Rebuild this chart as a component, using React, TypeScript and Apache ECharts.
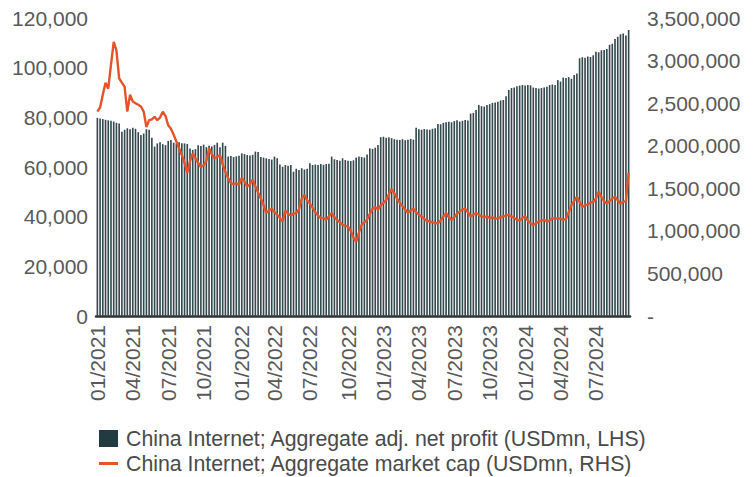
import React, { useEffect, useRef } from "react";
import * as echarts from "echarts";

const SERIES_PROFIT = "China Internet; Aggregate adj. net profit (USDmn, LHS)";
const SERIES_CAP = "China Internet; Aggregate market cap (USDmn, RHS)";

const START_DATE = "2021-01-01";

const TICK_LABELS = [
  "01/2021", "04/2021", "07/2021", "10/2021",
  "01/2022", "04/2022", "07/2022", "10/2022",
  "01/2023", "04/2023", "07/2023", "10/2023",
  "01/2024", "04/2024", "07/2024",
];

// Weekly aggregate adj. net profit (USDmn)
const profit = [
  79800, 79500, 79300, 79000, 78800, 78600, 78300, 77800, 77500, 74200,
  75000, 75600, 75200, 75800, 75400, 74000, 72900, 73500, 75200, 75000,
  71800, 68200, 69500, 70000, 69200, 68800, 70500, 70900, 69800, 69500,
  70000, 69600, 69500, 69300, 67500, 66900, 67200, 68800, 68500, 69000,
  68000, 68600, 68300, 68900, 69800, 68000, 69800, 68500, 64200, 64400,
  64000, 64300, 64500, 65500, 65200, 64800, 64600, 64900, 66200, 66000,
  64000, 63800, 63500, 63200, 63000, 64200, 63500, 61000, 60100, 60800,
  60500, 60800, 58100, 59300, 58800, 59500, 59000, 59300, 61500, 60800,
  61000, 60800, 61200, 60900, 61200, 61300, 64200, 63100, 62800, 62500,
  63500, 62800, 62500, 62400, 62700, 63800, 64200, 64000, 63800, 65000,
  67500, 67300, 67800, 68900, 72000, 72200, 71800, 72000, 71600, 71200,
  71000, 70900, 71200, 70800, 71000, 71300, 71000, 75800, 75200, 75000,
  75300, 75100, 75000, 75400, 75600, 77300, 77200, 77800, 78000, 78200,
  78000, 78500, 78800, 78300, 78600, 78900, 78700, 81500, 81800, 83000,
  85000, 84500, 84300, 85000, 85300, 85800, 86000, 86300, 86800, 87000,
  88500, 91000, 91800, 92000, 92500, 92800, 93000, 92800, 93000, 92900,
  92000, 91800, 91600, 91800, 92000, 92300, 93000, 93200, 93000, 95000,
  94400, 96000, 95800, 96200, 95500, 97000, 97700, 103800, 104200, 104000,
  104500, 104300, 105000, 106400, 106200, 107000, 107100, 107500, 109200, 109600,
  111500, 112500, 113500, 113800, 113000, 115200,
];

// Weekly aggregate market cap (USDmn)
const marketCap = [
  2400000, 2450000, 2600000, 2740000, 2670000, 2950000, 3220000, 3120000, 2790000, 2740000,
  2690000, 2400000, 2600000, 2520000, 2500000, 2480000, 2460000, 2400000, 2220000, 2300000,
  2310000, 2340000, 2300000, 2330000, 2400000, 2350000, 2240000, 2200000, 2130000, 2050000,
  1970000, 1890000, 1800000, 1680000, 1820000, 1910000, 1850000, 1800000, 1750000, 1770000,
  1820000, 1970000, 1900000, 1850000, 1870000, 1890000, 1780000, 1690000, 1620000, 1560000,
  1550000, 1560000, 1540000, 1620000, 1580000, 1520000, 1550000, 1600000, 1520000, 1450000,
  1380000, 1300000, 1210000, 1240000, 1260000, 1220000, 1190000, 1150000, 1110000, 1240000,
  1200000, 1180000, 1200000, 1210000, 1250000, 1380000, 1420000, 1360000, 1320000, 1270000,
  1220000, 1180000, 1150000, 1150000, 1130000, 1170000, 1210000, 1160000, 1130000, 1100000,
  1070000, 1060000, 1050000, 1000000, 920000, 870000, 980000, 1070000, 1100000, 1130000,
  1200000, 1260000, 1280000, 1250000, 1300000, 1330000, 1360000, 1430000, 1490000, 1440000,
  1380000, 1330000, 1290000, 1250000, 1210000, 1240000, 1260000, 1220000, 1190000, 1170000,
  1140000, 1120000, 1110000, 1100000, 1090000, 1090000, 1120000, 1170000, 1210000, 1160000,
  1130000, 1160000, 1200000, 1230000, 1250000, 1260000, 1220000, 1170000, 1190000, 1210000,
  1190000, 1170000, 1160000, 1170000, 1150000, 1160000, 1140000, 1150000, 1160000, 1170000,
  1180000, 1190000, 1170000, 1150000, 1130000, 1120000, 1150000, 1170000, 1120000, 1090000,
  1070000, 1090000, 1110000, 1120000, 1130000, 1110000, 1120000, 1150000, 1140000, 1150000,
  1140000, 1130000, 1140000, 1220000, 1300000, 1350000, 1400000, 1340000, 1280000, 1300000,
  1310000, 1330000, 1340000, 1380000, 1460000, 1400000, 1350000, 1320000, 1350000, 1380000,
  1400000, 1360000, 1320000, 1340000, 1350000, 1680000,
];

function buildWeeks(start: string, count: number): string[] {
  const out: string[] = [];
  const base = new Date(start + "T00:00:00Z").getTime();
  for (let i = 0; i < count; i++) {
    const d = new Date(base + i * 7 * 86400000);
    const y = d.getUTCFullYear();
    const m = String(d.getUTCMonth() + 1).padStart(2, "0");
    const day = String(d.getUTCDate()).padStart(2, "0");
    out.push(`${y}-${m}-${day}`);
  }
  return out;
}

const weeks = buildWeeks(START_DATE, profit.length);

function monthLabel(v: string): string {
  const [y, m] = v.split("-");
  return `${m}/${y}`;
}

function isTick(v: string): boolean {
  const day = parseInt(v.split("-")[2], 10);
  return day <= 7 && TICK_LABELS.includes(monthLabel(v));
}

const FONT = "'Liberation Sans', Arial, Helvetica, sans-serif";

const legendBase = {
  orient: "horizontal",
  left: 99,
  itemWidth: 19,
  itemHeight: 17,
  padding: 0,
  selectedMode: false,
  textStyle: { fontFamily: FONT, fontSize: 21.3, color: "#4a4a4a", padding: [0, 0, 0, 3] },
};

export default function App() {
  const ref = useRef<HTMLDivElement>(null);

  useEffect(() => {
    document.body.style.margin = "0";
    if (!ref.current) return;
    const chart = echarts.init(ref.current, undefined, { renderer: "svg" });
    chart.setOption({
      animation: false,
      backgroundColor: "#ffffff",
      textStyle: { fontFamily: FONT },
      grid: { left: 96, right: 125, top: 18, bottom: 161 },
      legend: [
        { ...legendBase, top: 428, data: [{ name: SERIES_PROFIT, icon: "rect", itemStyle: { color: "#213b41" } }] },
        { ...legendBase, top: 453, data: [{ name: SERIES_CAP, icon: "path://M0 0H19V3H0Z" }] },
      ],
      xAxis: {
        type: "category",
        data: weeks,
        boundaryGap: true,
        axisLine: { show: true, lineStyle: { color: "#333333", width: 2.5 } },
        axisTick: { show: false },
        axisLabel: {
          interval: (_i: number, v: string) => isTick(v),
          formatter: (v: string) => monthLabel(v),
          rotate: 90,
          margin: 9,
          fontSize: 21,
          fontFamily: FONT,
          color: "#595959",
        },
        splitLine: { show: false },
      },
      yAxis: [
        {
          type: "value",
          min: 0,
          max: 120000,
          interval: 20000,
          axisLine: { show: false },
          axisTick: { show: false },
          splitLine: { show: false },
          axisLabel: {
            margin: 8,
            fontSize: 21,
            fontFamily: FONT,
            color: "#595959",
            formatter: (v: number) => v.toLocaleString("en-US"),
          },
        },
        {
          type: "value",
          min: 0,
          max: 3500000,
          interval: 500000,
          position: "right",
          axisLine: { show: false },
          axisTick: { show: false },
          splitLine: { show: false },
          axisLabel: {
            margin: 17,
            fontSize: 21,
            fontFamily: FONT,
            color: "#595959",
            formatter: (v: number) => (v === 0 ? "-" : v.toLocaleString("en-US")),
          },
        },
      ],
      series: [
        {
          name: SERIES_PROFIT,
          type: "bar",
          data: profit,
          yAxisIndex: 0,
          barCategoryGap: "40%",
          itemStyle: { color: "#34494e" },
        },
        {
          name: SERIES_CAP,
          type: "line",
          data: marketCap,
          yAxisIndex: 1,
          symbol: "none",
          z: 5,
          lineStyle: { color: "#e5532a", width: 2.4 },
          itemStyle: { color: "#e5532a" },
        },
      ],
    });
    return () => chart.dispose();
  }, []);

  return (
    <div
      ref={ref}
      style={{ position: "absolute", left: 0, top: 0, width: 755, height: 477 }}
    />
  );
}
